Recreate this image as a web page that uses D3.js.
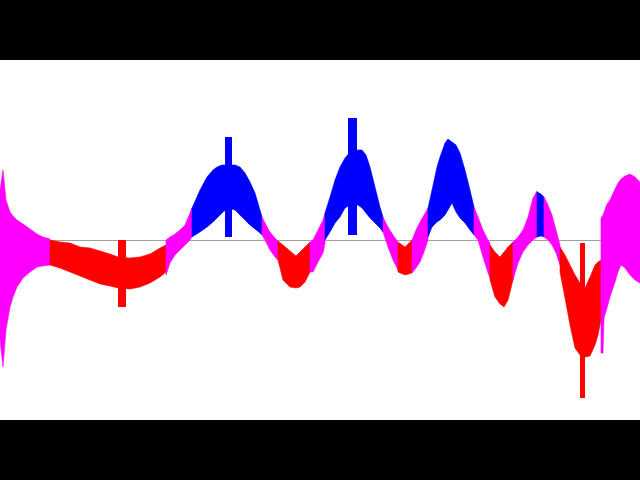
<!DOCTYPE html>
<html>
<head>
<meta charset="utf-8">
<script src="https://cdn.jsdelivr.net/npm/d3@7"></script>
<style>
  html, body { margin: 0; padding: 0; background: #000; }
  svg { display: block; }
</style>
</head>
<body>
<div id="chart"></div>
<script>
// Each entry: [x position, upper value, lower value] (amplitude, zero = baseline)
const magenta1 = [[0,50,-100],[3,70,-127],[6,40,-90],[10,28,-67],[13,24,-57],[17,20,-47],[23,16,-38],[30,11,-32],[37,6,-27],[43,3,-26],[50,1,-25]];
const red1 = [[50,0,-25],[60,-2,-28],[70,-3,-32],[80,-7,-36],[90,-8,-40],[100,-11,-44],[110,-14,-46],[118,-17,-48],[130,-18,-49],[140,-17,-47],[150,-14,-43],[160,-8,-37],[166,-5,-32]];
const magenta2 = [[166,0,-35],[170,3,-23],[175,6,-15],[180,10,-10],[185,15,-5],[190,27,0],[192,32,3]];
const blue1 = [[192,32,3],[200,50,8],[207,63,13],[213,70,18],[217,73,22],[222,75,27],[228,75,32],[235,75,30],[240,73,25],[245,67,20],[250,58,15],[255,47,11],[260,30,7],[262,23,5]];
const magenta3 = [[262,23,5],[265,17,0],[270,8,-10],[275,2,-17],[278,-1,-20]];
const red2 = [[278,-1,-20],[283,-5,-40],[290,-11,-47],[296,-16,-48],[300,-12,-47],[305,-7,-42],[310,-2,-32]];
const magenta4 = [[310,-2,-32],[313,0,-32],[318,10,-22],[323,20,-13],[325,27,-3]];
const blue2 = [[325,27,0],[330,43,8],[335,60,17],[340,73,23],[345,82,32],[350,88,35],[358,90,35],[362,90,32],[366,85,27],[370,73,22],[375,53,17],[380,33,12],[383,23,8]];
const magenta5 = [[383,23,8],[388,13,-7],[393,5,-20],[398,-2,-30]];
const red3 = [[398,-2,-32],[405,-7,-35],[412,0,-33]];
const magenta6 = [[412,0,-33],[416,10,-28],[420,18,-22],[424,25,-12],[428,32,0]];
const blue3 = [[428,32,3],[432,50,13],[437,73,18],[440,83,20],[445,97,25],[448,101,30],[452,98,37],[456,95,28],[460,87,22],[465,70,17],[470,50,10],[474,33,5]];
const magenta7 = [[474,33,5],[478,23,0],[483,10,-17],[488,0,-33],[490,-3,-38]];
const red4 = [[490,-5,-40],[495,-12,-57],[500,-17,-64],[504,-12,-67],[508,-7,-60],[513,-2,-40]];
const magenta8 = [[513,-2,-40],[518,3,-23],[523,10,-12],[528,23,-5],[533,42,0],[537,49,3]];
const blue4 = [[537,48,3],[541,46,4],[544,43,3]];
const magenta9 = [[544,43,3],[548,35,0],[552,25,-5],[556,10,-13],[560,-5,-25]];
const red5 = [[560,-7,-32],[565,-15,-58],[570,-25,-85],[575,-35,-108],[580,-43,-115],[585,-48,-117],[590,-37,-116],[595,-25,-105],[598,-22,-95],[601,-20,-80]];
const magenta10 = [[601,22,-113],[603,25,-113],[604,28,-78],[607,36,-68],[610,40,-57],[615,51,-42],[618,57,-32],[621,61,-25],[625,64,-28],[630,66,-35],[635,63,-40],[640,58,-43]];

// Narrow spikes: [x start, x end, upper value, lower value, colour key]
const spikes = [[118,126,0,-67,"red"],[225,232,103,3,"blue"],[348,357,122,5,"blue"],[580,585,-3,-158,"red"]];

const colours = { magenta: "#ff00ff", red: "#ff0000", blue: "#0000ff" };
const segments = [
  ["magenta", magenta1], ["red", red1], ["magenta", magenta2], ["blue", blue1],
  ["magenta", magenta3], ["red", red2], ["magenta", magenta4], ["blue", blue2],
  ["magenta", magenta5], ["red", red3], ["magenta", magenta6], ["blue", blue3],
  ["magenta", magenta7], ["red", red4], ["magenta", magenta8], ["blue", blue4],
  ["magenta", magenta9], ["red", red5], ["magenta", magenta10]
];

const W = 640, H = 480, plotTop = 60, plotBottom = 420;
const x = d3.scaleLinear().domain([0, 640]).range([0, W]);
const y = d3.scaleLinear().domain([-180, 180]).range([plotBottom, plotTop]);

const svg = d3.select("#chart").append("svg").attr("width", W).attr("height", H);
svg.append("rect").attr("x", 0).attr("y", 0).attr("width", W).attr("height", H).attr("fill", "#000");
svg.append("rect").attr("x", 0).attr("y", plotTop).attr("width", W).attr("height", plotBottom - plotTop).attr("fill", "#fff");

svg.append("line")
  .attr("x1", 0).attr("x2", W)
  .attr("y1", Math.round(y(0)) + 0.5).attr("y2", Math.round(y(0)) + 0.5)
  .attr("stroke", "#a0a0a0").attr("stroke-width", 1);

const area = d3.area()
  .x(d => x(d[0]))
  .y0(d => y(d[2]))
  .y1(d => y(d[1]));

svg.append("g").selectAll("path").data(segments).join("path")
  .attr("d", d => area(d[1]))
  .attr("fill", d => colours[d[0]])
  .attr("stroke", d => colours[d[0]])
  .attr("stroke-width", 0.6);

svg.append("g").selectAll("rect").data(spikes).join("rect")
  .attr("x", d => x(d[0]))
  .attr("width", d => x(d[1]) - x(d[0]))
  .attr("y", d => y(d[2]))
  .attr("height", d => y(d[3]) - y(d[2]))
  .attr("fill", d => colours[d[4]]);
</script>
</body>
</html>
